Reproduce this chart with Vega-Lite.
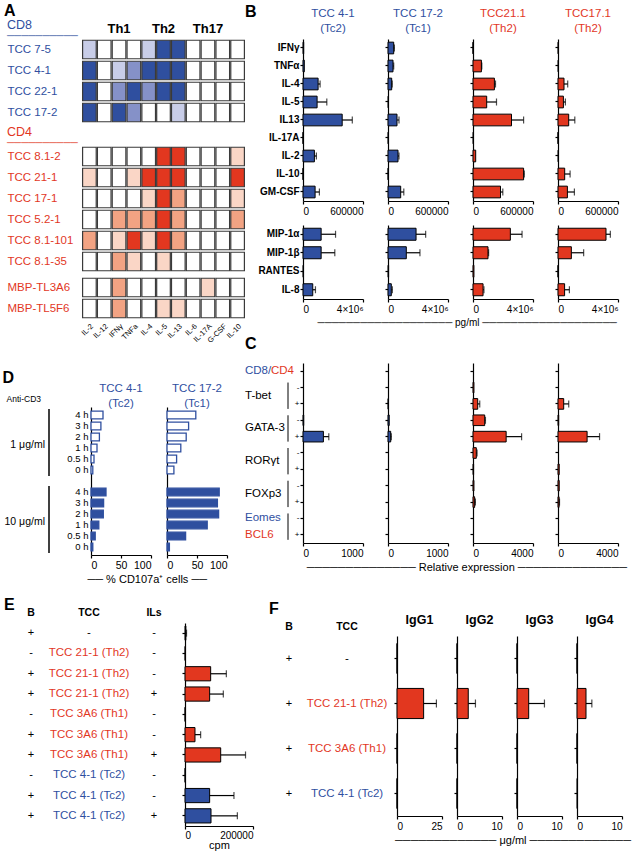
{
"$schema": "https://vega.github.io/schema/vega-lite/v6.json",
"background": "white",
"padding": 2,
"config": {
  "view": {"stroke": null},
  "font": "Liberation Sans",
  "axis": {"grid": false, "domainColor": "#000", "tickColor": "#000", "labelColor": "#000", "labelFont": "Liberation Sans", "titleFont": "Liberation Sans", "labelFontSize": 10, "tickSize": 3, "domainWidth": 1.2, "tickWidth": 1.2, "titleFontWeight": "normal", "titleFontSize": 10, "titleColor": "#000"},
  "title": {"font": "Liberation Sans", "fontWeight": "normal", "color": "#000", "subtitleFont": "Liberation Sans"},
  "text": {"font": "Liberation Sans"}
},
"datasets": {
  "heat": [
    {"clone":"TCC 7-5","subset":"CD8","block":"CD8","IL-2":1,"IL-12":0,"IFNγ":0,"TNFa":0,"IL-4":1,"IL-5":3,"IL-13":3,"IL-6":0,"IL-17A":0,"G-CSF":0,"IL-10":0},
    {"clone":"TCC 4-1","subset":"CD8","block":"CD8","IL-2":3,"IL-12":0,"IFNγ":1,"TNFa":2,"IL-4":3,"IL-5":3,"IL-13":3,"IL-6":0,"IL-17A":0,"G-CSF":0,"IL-10":0},
    {"clone":"TCC 22-1","subset":"CD8","block":"CD8","IL-2":3,"IL-12":0,"IFNγ":2,"TNFa":3,"IL-4":2,"IL-5":3,"IL-13":3,"IL-6":0,"IL-17A":0,"G-CSF":0,"IL-10":0},
    {"clone":"TCC 17-2","subset":"CD8","block":"CD8","IL-2":3,"IL-12":0,"IFNγ":3,"TNFa":2,"IL-4":0,"IL-5":0,"IL-13":1,"IL-6":0,"IL-17A":0,"G-CSF":0,"IL-10":0},
    {"clone":"TCC 8.1-2","subset":"CD4","block":"CD4","IL-2":0,"IL-12":0,"IFNγ":0,"TNFa":0,"IL-4":0,"IL-5":3,"IL-13":3,"IL-6":0,"IL-17A":0,"G-CSF":0,"IL-10":1},
    {"clone":"TCC 21-1","subset":"CD4","block":"CD4","IL-2":1,"IL-12":0,"IFNγ":0,"TNFa":1,"IL-4":3,"IL-5":3,"IL-13":3,"IL-6":0,"IL-17A":0,"G-CSF":0,"IL-10":3},
    {"clone":"TCC 17-1","subset":"CD4","block":"CD4","IL-2":0,"IL-12":0,"IFNγ":0,"TNFa":0,"IL-4":1,"IL-5":3,"IL-13":2,"IL-6":0,"IL-17A":0,"G-CSF":0,"IL-10":1},
    {"clone":"TCC 5.2-1","subset":"CD4","block":"CD4","IL-2":0,"IL-12":0,"IFNγ":2,"TNFa":2,"IL-4":2,"IL-5":3,"IL-13":2,"IL-6":0,"IL-17A":0,"G-CSF":0,"IL-10":2},
    {"clone":"TCC 8.1-101","subset":"CD4","block":"CD4","IL-2":2,"IL-12":0,"IFNγ":1,"TNFa":3,"IL-4":1,"IL-5":3,"IL-13":2,"IL-6":0,"IL-17A":0,"G-CSF":0,"IL-10":0},
    {"clone":"TCC 8.1-35","subset":"CD4","block":"CD4","IL-2":0,"IL-12":0,"IFNγ":2,"TNFa":1,"IL-4":0,"IL-5":1,"IL-13":0,"IL-6":0,"IL-17A":0,"G-CSF":0,"IL-10":0},
    {"clone":"MBP-TL3A6","subset":"CD4","block":"MBP","IL-2":0,"IL-12":0,"IFNγ":2,"TNFa":0,"IL-4":0,"IL-5":0,"IL-13":0,"IL-6":0,"IL-17A":1,"G-CSF":0,"IL-10":0},
    {"clone":"MBP-TL5F6","subset":"CD4","block":"MBP","IL-2":0,"IL-12":0,"IFNγ":2,"TNFa":0,"IL-4":0,"IL-5":1,"IL-13":1,"IL-6":0,"IL-17A":0,"G-CSF":0,"IL-10":0}
  ],
  "bt": [
    {"clone":"c1","cat":"IFNγ","v":7000},{"clone":"c1","cat":"TNFα","v":13000},{"clone":"c1","cat":"IL-4","v":151000,"hi":171000},{"clone":"c1","cat":"IL-5","v":141000,"hi":238000},{"clone":"c1","cat":"IL13","v":392000,"hi":493000},{"clone":"c1","cat":"IL-17A","v":0},{"clone":"c1","cat":"IL-2","v":114000,"hi":134000},{"clone":"c1","cat":"IL-10","v":0},{"clone":"c1","cat":"GM-CSF","v":121000,"hi":164000},
    {"clone":"c2","cat":"IFNγ","v":57000,"hi":64000},{"clone":"c2","cat":"TNFα","v":50000,"hi":57000},{"clone":"c2","cat":"IL-4","v":37000,"hi":42000},{"clone":"c2","cat":"IL-5","v":5000},{"clone":"c2","cat":"IL13","v":90000,"hi":110000},{"clone":"c2","cat":"IL-17A","v":4000},{"clone":"c2","cat":"IL-2","v":100000,"hi":110000},{"clone":"c2","cat":"IL-10","v":2000},{"clone":"c2","cat":"GM-CSF","v":127000,"hi":158000},
    {"clone":"c3","cat":"IFNγ","v":0},{"clone":"c3","cat":"TNFα","v":84000,"hi":88000},{"clone":"c3","cat":"IL-4","v":214000,"hi":225000},{"clone":"c3","cat":"IL-5","v":137000,"hi":235000},{"clone":"c3","cat":"IL13","v":385000,"hi":506000},{"clone":"c3","cat":"IL-17A","v":5000},{"clone":"c3","cat":"IL-2","v":27000},{"clone":"c3","cat":"IL-10","v":506000,"hi":513000},{"clone":"c3","cat":"GM-CSF","v":275000,"hi":298000},
    {"clone":"c4","cat":"IFNγ","v":4000},{"clone":"c4","cat":"TNFα","v":5000},{"clone":"c4","cat":"IL-4","v":60000,"hi":97000},{"clone":"c4","cat":"IL-5","v":54000,"hi":74000},{"clone":"c4","cat":"IL13","v":107000,"hi":168000},{"clone":"c4","cat":"IL-17A","v":0},{"clone":"c4","cat":"IL-2","v":5000},{"clone":"c4","cat":"IL-10","v":67000,"hi":121000},{"clone":"c4","cat":"GM-CSF","v":94000,"hi":164000}
  ],
  "bb": [
    {"clone":"c1","cat":"MIP-1α","v":1210000,"hi":2170000},{"clone":"c1","cat":"MIP-1β","v":1210000,"hi":2120000},{"clone":"c1","cat":"RANTES","v":30000},{"clone":"c1","cat":"IL-8","v":650000,"hi":830000},
    {"clone":"c2","cat":"MIP-1α","v":1870000,"hi":2510000},{"clone":"c2","cat":"MIP-1β","v":1220000,"hi":2130000},{"clone":"c2","cat":"RANTES","v":40000},{"clone":"c2","cat":"IL-8","v":220000,"hi":290000},
    {"clone":"c3","cat":"MIP-1α","v":2490000,"hi":3270000},{"clone":"c3","cat":"MIP-1β","v":1000000,"hi":1040000},{"clone":"c3","cat":"RANTES","v":60000},{"clone":"c3","cat":"IL-8","v":670000,"hi":730000},
    {"clone":"c4","cat":"MIP-1α","v":3200000,"hi":3490000},{"clone":"c4","cat":"MIP-1β","v":890000,"hi":1710000},{"clone":"c4","cat":"RANTES","v":0},{"clone":"c4","cat":"IL-8","v":440000,"hi":760000}
  ],
  "c": [
    {"clone":"c1","cat":"GATA-3|-","v":12},{"clone":"c1","cat":"GATA-3|+","v":340,"hi":430},
    {"clone":"c2","cat":"T-bet|+","v":6},{"clone":"c2","cat":"GATA-3|-","v":20},{"clone":"c2","cat":"GATA-3|+","v":45,"hi":55},
    {"clone":"c3","cat":"T-bet|-","v":60},{"clone":"c3","cat":"T-bet|+","v":313,"hi":450},{"clone":"c3","cat":"GATA-3|-","v":780,"hi":830},{"clone":"c3","cat":"GATA-3|+","v":2210,"hi":3240},{"clone":"c3","cat":"RORγt|-","v":220,"hi":270},{"clone":"c3","cat":"RORγt|+","v":40},{"clone":"c3","cat":"FOXp3|-","v":60},{"clone":"c3","cat":"FOXp3|+","v":110,"hi":160},
    {"clone":"c4","cat":"T-bet|+","v":380,"hi":715},{"clone":"c4","cat":"GATA-3|-","v":45},{"clone":"c4","cat":"GATA-3|+","v":1940,"hi":2770},{"clone":"c4","cat":"RORγt|+","v":80},{"clone":"c4","cat":"FOXp3|-","v":80},{"clone":"c4","cat":"FOXp3|+","v":70,"hi":100}
  ],
  "cgrp": [
    {"cat":"T-bet|-","label":"T-bet"},{"cat":"GATA-3|-","label":"GATA-3"},{"cat":"RORγt|-","label":"RORγt"},{"cat":"FOXp3|-","label":"FOXp3"}
  ],
  "cbr": [
    {"a":"T-bet|-","b":"T-bet|+"},{"a":"GATA-3|-","b":"GATA-3|+"},{"a":"RORγt|-","b":"RORγt|+"},{"a":"FOXp3|-","b":"FOXp3|+"},{"a":"Eomes/BCL6|-","b":"Eomes/BCL6|+"}
  ],
  "d": [
    {"clone":"4-1","dose":"1","key":"1|4 h","v":20},{"clone":"4-1","dose":"1","key":"1|3 h","v":16.5},{"clone":"4-1","dose":"1","key":"1|2 h","v":14},{"clone":"4-1","dose":"1","key":"1|1 h","v":10},{"clone":"4-1","dose":"1","key":"1|0.5 h","v":5},{"clone":"4-1","dose":"1","key":"1|0 h","v":3},
    {"clone":"4-1","dose":"10","key":"10|4 h","v":25},{"clone":"4-1","dose":"10","key":"10|3 h","v":21},{"clone":"4-1","dose":"10","key":"10|2 h","v":20.5},{"clone":"4-1","dose":"10","key":"10|1 h","v":13},{"clone":"4-1","dose":"10","key":"10|0.5 h","v":7},{"clone":"4-1","dose":"10","key":"10|0 h","v":3},
    {"clone":"17-2","dose":"1","key":"1|4 h","v":48},{"clone":"17-2","dose":"1","key":"1|3 h","v":36},{"clone":"17-2","dose":"1","key":"1|2 h","v":32},{"clone":"17-2","dose":"1","key":"1|1 h","v":23},{"clone":"17-2","dose":"1","key":"1|0.5 h","v":16},{"clone":"17-2","dose":"1","key":"1|0 h","v":11.5},
    {"clone":"17-2","dose":"10","key":"10|4 h","v":87},{"clone":"17-2","dose":"10","key":"10|3 h","v":84},{"clone":"17-2","dose":"10","key":"10|2 h","v":86},{"clone":"17-2","dose":"10","key":"10|1 h","v":67},{"clone":"17-2","dose":"10","key":"10|0.5 h","v":31},{"clone":"17-2","dose":"10","key":"10|0 h","v":4}
  ],
  "dgrp": [
    {"a":"1|4 h","b":"1|0 h","mid":"1|1 h","label":"1 μg/ml"},{"a":"10|4 h","b":"10|0 h","mid":"10|1 h","label":"10 μg/ml"}
  ],
  "e": [
    {"row":1,"b":"+","tcc":"-","ils":"-","grp":"none","v":2500,"hi":4500},
    {"row":2,"b":"-","tcc":"TCC 21-1 (Th2)","ils":"-","grp":"CD4","v":800},
    {"row":3,"b":"+","tcc":"TCC 21-1 (Th2)","ils":"-","grp":"CD4","v":75500,"hi":121600},
    {"row":4,"b":"+","tcc":"TCC 21-1 (Th2)","ils":"+","grp":"CD4","v":72500,"hi":112700},
    {"row":5,"b":"-","tcc":"TCC 3A6 (Th1)","ils":"-","grp":"CD4","v":500},
    {"row":6,"b":"+","tcc":"TCC 3A6 (Th1)","ils":"-","grp":"CD4","v":29400,"hi":46000},
    {"row":7,"b":"+","tcc":"TCC 3A6 (Th1)","ils":"+","grp":"CD4","v":105000,"hi":178000},
    {"row":8,"b":"-","tcc":"TCC 4-1 (Tc2)","ils":"-","grp":"CD8","v":500},
    {"row":9,"b":"+","tcc":"TCC 4-1 (Tc2)","ils":"-","grp":"CD8","v":72500,"hi":144000},
    {"row":10,"b":"+","tcc":"TCC 4-1 (Tc2)","ils":"+","grp":"CD8","v":76500,"hi":154000}
  ],
  "f": [
    {"row":1,"b":"+","tcc":"-","grp":"none"},
    {"row":2,"b":"+","tcc":"TCC 21-1 (Th2)","grp":"CD4"},
    {"row":3,"b":"+","tcc":"TCC 3A6 (Th1)","grp":"CD4"},
    {"row":4,"b":"+","tcc":"TCC 4-1 (Tc2)","grp":"CD8"}
  ],
  "fg": [
    {"ig":"IgG1","row":1,"v":0,"grp":"none"},{"ig":"IgG1","row":2,"v":14.8,"hi":21.9,"grp":"CD4"},{"ig":"IgG1","row":3,"v":0,"grp":"CD4"},{"ig":"IgG1","row":4,"v":0,"grp":"CD8"},
    {"ig":"IgG2","row":1,"v":0,"grp":"none"},{"ig":"IgG2","row":2,"v":2.5,"hi":4.1,"grp":"CD4"},{"ig":"IgG2","row":3,"v":0,"grp":"CD4"},{"ig":"IgG2","row":4,"v":0,"grp":"CD8"},
    {"ig":"IgG3","row":1,"v":0,"grp":"none"},{"ig":"IgG3","row":2,"v":2.6,"hi":6.1,"grp":"CD4"},{"ig":"IgG3","row":3,"v":0,"grp":"CD4"},{"ig":"IgG3","row":4,"v":0,"grp":"CD8"},
    {"ig":"IgG4","row":1,"v":0,"grp":"none"},{"ig":"IgG4","row":2,"v":2.0,"hi":3.3,"grp":"CD4"},{"ig":"IgG4","row":3,"v":0,"grp":"CD4"},{"ig":"IgG4","row":4,"v":0.1,"grp":"CD8"}
  ]
},
"spacing": 11,
"resolve": {"scale": {"color": "independent", "fill": "independent"}},
"vconcat": [
  {"spacing": -2, "resolve": {"scale": {"color": "independent", "fill": "independent"}}, "hconcat": [
    {"spacing": 25, "resolve": {"scale": {"color": "independent", "fill": "independent"}}, "vconcat": [
      {"title": {"text": "A", "anchor": "start", "fontSize": 16, "fontWeight": "bold", "dx": -3, "offset": 0},
       "spacing": 2, "resolve": {"scale": {"color": "independent", "fill": "independent"}},
       "vconcat": [
        {"bounds": "flush", "spacing": 74, "resolve": {"scale": {"color": "independent", "fill": "independent"}}, "hconcat": [
          {"width": 1, "height": 84, "data": {"name": "heat"}, "transform": [{"filter": "datum.block === 'CD8'"}],
           "title": {"text": "CD8", "subtitle": "──────────", "anchor": "start", "color": "#2f4f9f", "subtitleColor": "#2f4f9f", "fontSize": 12.5, "subtitleFontSize": 10, "subtitlePadding": 0, "offset": -2},
           "mark": {"type": "text", "align": "left", "baseline": "middle", "fontSize": 11.5},
           "encoding": {
             "y": {"field": "clone", "type": "nominal", "sort": null, "scale": {"paddingInner": 0.12, "paddingOuter": 0.06}, "axis": null},
             "text": {"field": "clone"},
             "color": {"field": "subset", "type": "nominal", "scale": {"domain": ["CD8","CD4"], "range": ["#2f4f9f","#e2371f"]}, "legend": null}}},
          {"width": 163, "height": 84, "data": {"name": "heat"},
           "transform": [{"filter": "datum.block === 'CD8'"}, {"fold": ["IL-2","IL-12","IFNγ","TNFa","IL-4","IL-5","IL-13","IL-6","IL-17A","G-CSF","IL-10"], "as": ["cytokine","level"]}, {"calculate": "datum.level == 0 ? 'none' : datum.subset + datum.level", "as": "shade"}],
           "mark": {"type": "rect", "stroke": "#3a3a3a", "strokeWidth": 1.2},
           "encoding": {
             "x": {"field": "cytokine", "type": "nominal", "scale": {"domain": ["IL-2","IL-12","IFNγ","TNFa","IL-4","IL-5","IL-13","IL-6","IL-17A","G-CSF","IL-10"], "paddingInner": 0.08, "paddingOuter": 0.04}, "axis": {"orient": "top", "title": null, "domain": false, "ticks": false, "labelAngle": 0, "labelFontSize": 13, "labelFontWeight": "bold", "labelPadding": 4, "labelExpr": "datum.value == 'IFNγ' ? 'Th1' : datum.value == 'IL-5' ? 'Th2' : datum.value == 'IL-17A' ? 'Th17' : ''"}},
             "y": {"field": "clone", "type": "nominal", "sort": null, "scale": {"paddingInner": 0.12, "paddingOuter": 0.06}, "axis": null},
             "color": {"field": "shade", "type": "nominal", "scale": {"domain": ["none","CD81","CD82","CD83","CD41","CD42","CD43"], "range": ["#ffffff","#c8cde8","#8591c8","#2f4f9f","#fad6c6","#f2a383","#e2371f"]}, "legend": null}}}
        ]},
        {"spacing": 5, "resolve": {"scale": {"color": "independent", "fill": "independent"}}, "vconcat": [
          {"bounds": "flush", "spacing": 74, "resolve": {"scale": {"color": "independent", "fill": "independent"}}, "hconcat": [
            {"width": 1, "height": 126, "data": {"name": "heat"}, "transform": [{"filter": "datum.block === 'CD4'"}],
             "title": {"text": "CD4", "subtitle": "──────────", "anchor": "start", "color": "#e2371f", "subtitleColor": "#e2371f", "fontSize": 12.5, "subtitleFontSize": 10, "subtitlePadding": 0, "offset": -2},
             "mark": {"type": "text", "align": "left", "baseline": "middle", "fontSize": 11.5},
             "encoding": {
               "y": {"field": "clone", "type": "nominal", "sort": null, "scale": {"paddingInner": 0.12, "paddingOuter": 0.06}, "axis": null},
               "text": {"field": "clone"},
               "color": {"field": "subset", "type": "nominal", "scale": {"domain": ["CD8","CD4"], "range": ["#2f4f9f","#e2371f"]}, "legend": null}}},
            {"width": 163, "height": 126, "data": {"name": "heat"},
             "transform": [{"filter": "datum.block === 'CD4'"}, {"fold": ["IL-2","IL-12","IFNγ","TNFa","IL-4","IL-5","IL-13","IL-6","IL-17A","G-CSF","IL-10"], "as": ["cytokine","level"]}, {"calculate": "datum.level == 0 ? 'none' : datum.subset + datum.level", "as": "shade"}],
             "mark": {"type": "rect", "stroke": "#3a3a3a", "strokeWidth": 1.2},
             "encoding": {
               "x": {"field": "cytokine", "type": "nominal", "scale": {"domain": ["IL-2","IL-12","IFNγ","TNFa","IL-4","IL-5","IL-13","IL-6","IL-17A","G-CSF","IL-10"], "paddingInner": 0.08, "paddingOuter": 0.04}, "axis": null},
               "y": {"field": "clone", "type": "nominal", "sort": null, "scale": {"paddingInner": 0.12, "paddingOuter": 0.06}, "axis": null},
               "color": {"field": "shade", "type": "nominal", "scale": {"domain": ["none","CD81","CD82","CD83","CD41","CD42","CD43"], "range": ["#ffffff","#c8cde8","#8591c8","#2f4f9f","#fad6c6","#f2a383","#e2371f"]}, "legend": null}}}
          ]},
          {"bounds": "flush", "spacing": 74, "resolve": {"scale": {"color": "independent", "fill": "independent"}}, "hconcat": [
            {"width": 1, "height": 42, "data": {"name": "heat"}, "transform": [{"filter": "datum.block === 'MBP'"}],
             "mark": {"type": "text", "align": "left", "baseline": "middle", "fontSize": 11.5},
             "encoding": {
               "y": {"field": "clone", "type": "nominal", "sort": null, "scale": {"paddingInner": 0.12, "paddingOuter": 0.06}, "axis": null},
               "text": {"field": "clone"},
               "color": {"field": "subset", "type": "nominal", "scale": {"domain": ["CD8","CD4"], "range": ["#2f4f9f","#e2371f"]}, "legend": null}}},
            {"width": 163, "height": 42, "data": {"name": "heat"},
             "transform": [{"filter": "datum.block === 'MBP'"}, {"fold": ["IL-2","IL-12","IFNγ","TNFa","IL-4","IL-5","IL-13","IL-6","IL-17A","G-CSF","IL-10"], "as": ["cytokine","level"]}, {"calculate": "datum.level == 0 ? 'none' : datum.subset + datum.level", "as": "shade"}],
             "mark": {"type": "rect", "stroke": "#3a3a3a", "strokeWidth": 1.2},
             "encoding": {
               "x": {"field": "cytokine", "type": "nominal", "scale": {"domain": ["IL-2","IL-12","IFNγ","TNFa","IL-4","IL-5","IL-13","IL-6","IL-17A","G-CSF","IL-10"], "paddingInner": 0.08, "paddingOuter": 0.04}, "axis": {"orient": "bottom", "title": null, "domain": false, "ticks": false, "labelAngle": -45, "labelFontSize": 7.5, "labelPadding": 3}},
               "y": {"field": "clone", "type": "nominal", "sort": null, "scale": {"paddingInner": 0.12, "paddingOuter": 0.06}, "axis": null},
               "color": {"field": "shade", "type": "nominal", "scale": {"domain": ["none","CD81","CD82","CD83","CD41","CD42","CD43"], "range": ["#ffffff","#c8cde8","#8591c8","#2f4f9f","#fad6c6","#f2a383","#e2371f"]}, "legend": null}}}
          ]}
        ]}
      ]},
      {"title": {"text": "D", "anchor": "start", "fontSize": 16, "fontWeight": "bold", "dx": -2, "offset": -3},
       "bounds": "flush", "spacing": -13, "resolve": {"scale": {"color": "independent", "fill": "independent"}},
       "hconcat": [
        {"width": 84, "height": 148, "data": {"name": "dgrp"},
         "title": {"text": "Anti-CD3", "anchor": "middle", "align": "right", "dx": -8, "fontSize": 8.5, "offset": 4},
         "layer": [
           {"mark": {"type": "rule", "color": "#000", "strokeWidth": 1.5, "yOffset": -6, "y2Offset": 6},
            "encoding": {"y": {"field": "a", "type": "nominal", "scale": {"domain": ["1|4 h","1|3 h","1|2 h","1|1 h","1|0.5 h","1|0 h","gap","10|4 h","10|3 h","10|2 h","10|1 h","10|0.5 h","10|0 h"], "paddingInner": 0.3, "paddingOuter": 0.375}, "axis": null}, "y2": {"field": "b"}}},
           {"mark": {"type": "text", "align": "right", "baseline": "middle", "fontSize": 10.5, "dx": -4, "dy": -3},
            "encoding": {"y": {"field": "mid", "type": "nominal", "axis": null}, "text": {"field": "label"}}}
         ]},
        {"title": {"text": "──   % CD107a⁺ cells   ──", "orient": "bottom", "anchor": "middle", "fontSize": 11, "offset": 3},
         "bounds": "flush", "spacing": 16, "resolve": {"scale": {"color": "independent", "fill": "independent"}},
         "hconcat": [
          {"width": 60, "height": 148, "data": {"name": "d"}, "transform": [{"filter": "datum.clone === '4-1'"}],
           "title": {"text": ["TCC 4-1", "(Tc2)"], "color": "#2f4f9f", "fontSize": 11.5, "lineHeight": 15, "offset": -2},
           "mark": {"type": "bar", "stroke": "#2f4f9f", "strokeWidth": 1.3},
           "encoding": {
             "y": {"field": "key", "type": "nominal", "scale": {"domain": ["1|4 h","1|3 h","1|2 h","1|1 h","1|0.5 h","1|0 h","gap","10|4 h","10|3 h","10|2 h","10|1 h","10|0.5 h","10|0 h"], "paddingInner": 0.3, "paddingOuter": 0.375}, "axis": {"title": null, "ticks": false, "labelFontSize": 9.5, "labelPadding": 3, "labelExpr": "split(datum.value, '|')[1] || ''"}},
             "x": {"field": "v", "type": "quantitative", "scale": {"domain": [0, 100], "nice": false}, "axis": {"title": null, "values": [0, 50, 100], "labelFontSize": 10.5}},
             "fill": {"field": "dose", "type": "nominal", "scale": {"domain": ["1","10"], "range": ["#ffffff","#2f4f9f"]}, "legend": null}}},
          {"width": 60, "height": 148, "data": {"name": "d"}, "transform": [{"filter": "datum.clone === '17-2'"}],
           "title": {"text": ["TCC 17-2", "(Tc1)"], "color": "#2f4f9f", "fontSize": 11.5, "lineHeight": 15, "offset": -2},
           "mark": {"type": "bar", "stroke": "#2f4f9f", "strokeWidth": 1.3},
           "encoding": {
             "y": {"field": "key", "type": "nominal", "scale": {"domain": ["1|4 h","1|3 h","1|2 h","1|1 h","1|0.5 h","1|0 h","gap","10|4 h","10|3 h","10|2 h","10|1 h","10|0.5 h","10|0 h"], "paddingInner": 0.3, "paddingOuter": 0.375}, "axis": {"title": null, "ticks": false, "labels": false}},
             "x": {"field": "v", "type": "quantitative", "scale": {"domain": [0, 100], "nice": false}, "axis": {"title": null, "values": [0, 50, 100], "labelFontSize": 10.5}},
             "fill": {"field": "dose", "type": "nominal", "scale": {"domain": ["1","10"], "range": ["#ffffff","#2f4f9f"]}, "legend": null}}}
         ]}
      ]}
    ]},
    {"spacing": 8, "vconcat": [
      {"title": {"text": "B", "anchor": "start", "fontSize": 16, "fontWeight": "bold", "dx": -13, "offset": -12},
       "spacing": 9,
       "vconcat": [
        {"bounds": "flush", "spacing": 25, "hconcat": [
          {"width": 60, "height": 162, "data": {"name": "bt"}, "transform": [{"filter": "datum.clone === 'c1'"}],
           "title": {"text": ["TCC 4-1", "(Tc2)"], "color": "#2f4f9f", "fontSize": 11.5, "lineHeight": 15, "offset": 5},
           "encoding": {"y": {"field": "cat", "type": "nominal", "scale": {"domain": ["IFNγ","TNFα","IL-4","IL-5","IL13","IL-17A","IL-2","IL-10","GM-CSF"], "paddingInner": 0.35, "paddingOuter": 0.175}, "axis": {"title": null, "labelFontWeight": "bold", "labelFontSize": 10, "labelPadding": 1}}},
           "layer": [
             {"mark": {"type": "bar", "fill": "#2f4f9f", "stroke": "#000", "strokeWidth": 1}, "encoding": {"x": {"field": "v", "type": "quantitative", "scale": {"domain": [0, 600000], "nice": false}, "axis": {"title": null, "values": [0, 600000], "format": "d"}}}},
             {"transform": [{"filter": "datum.hi != null"}], "mark": {"type": "rule", "color": "#000", "strokeWidth": 1.2}, "encoding": {"x": {"field": "v", "type": "quantitative", "title": null}, "x2": {"field": "hi"}}},
             {"transform": [{"filter": "datum.hi != null"}], "mark": {"type": "tick", "color": "#000", "thickness": 1.2, "size": 7}, "encoding": {"x": {"field": "hi", "type": "quantitative", "title": null}}}
           ]},
          {"width": 60, "height": 162, "data": {"name": "bt"}, "transform": [{"filter": "datum.clone === 'c2'"}],
           "title": {"text": ["TCC 17-2", "(Tc1)"], "color": "#2f4f9f", "fontSize": 11.5, "lineHeight": 15, "offset": 5},
           "encoding": {"y": {"field": "cat", "type": "nominal", "scale": {"domain": ["IFNγ","TNFα","IL-4","IL-5","IL13","IL-17A","IL-2","IL-10","GM-CSF"], "paddingInner": 0.35, "paddingOuter": 0.175}, "axis": {"title": null, "labels": false}}},
           "layer": [
             {"mark": {"type": "bar", "fill": "#2f4f9f", "stroke": "#000", "strokeWidth": 1}, "encoding": {"x": {"field": "v", "type": "quantitative", "scale": {"domain": [0, 600000], "nice": false}, "axis": {"title": null, "values": [0, 600000], "format": "d"}}}},
             {"transform": [{"filter": "datum.hi != null"}], "mark": {"type": "rule", "color": "#000", "strokeWidth": 1.2}, "encoding": {"x": {"field": "v", "type": "quantitative", "title": null}, "x2": {"field": "hi"}}},
             {"transform": [{"filter": "datum.hi != null"}], "mark": {"type": "tick", "color": "#000", "thickness": 1.2, "size": 7}, "encoding": {"x": {"field": "hi", "type": "quantitative", "title": null}}}
           ]},
          {"width": 60, "height": 162, "data": {"name": "bt"}, "transform": [{"filter": "datum.clone === 'c3'"}],
           "title": {"text": ["TCC21.1", "(Th2)"], "color": "#e2371f", "fontSize": 11.5, "lineHeight": 15, "offset": 5},
           "encoding": {"y": {"field": "cat", "type": "nominal", "scale": {"domain": ["IFNγ","TNFα","IL-4","IL-5","IL13","IL-17A","IL-2","IL-10","GM-CSF"], "paddingInner": 0.35, "paddingOuter": 0.175}, "axis": {"title": null, "labels": false}}},
           "layer": [
             {"mark": {"type": "bar", "fill": "#e2371f", "stroke": "#000", "strokeWidth": 1}, "encoding": {"x": {"field": "v", "type": "quantitative", "scale": {"domain": [0, 600000], "nice": false}, "axis": {"title": null, "values": [0, 600000], "format": "d"}}}},
             {"transform": [{"filter": "datum.hi != null"}], "mark": {"type": "rule", "color": "#000", "strokeWidth": 1.2}, "encoding": {"x": {"field": "v", "type": "quantitative", "title": null}, "x2": {"field": "hi"}}},
             {"transform": [{"filter": "datum.hi != null"}], "mark": {"type": "tick", "color": "#000", "thickness": 1.2, "size": 7}, "encoding": {"x": {"field": "hi", "type": "quantitative", "title": null}}}
           ]},
          {"width": 60, "height": 162, "data": {"name": "bt"}, "transform": [{"filter": "datum.clone === 'c4'"}],
           "title": {"text": ["TCC17.1", "(Th2)"], "color": "#e2371f", "fontSize": 11.5, "lineHeight": 15, "offset": 5},
           "encoding": {"y": {"field": "cat", "type": "nominal", "scale": {"domain": ["IFNγ","TNFα","IL-4","IL-5","IL13","IL-17A","IL-2","IL-10","GM-CSF"], "paddingInner": 0.35, "paddingOuter": 0.175}, "axis": {"title": null, "labels": false}}},
           "layer": [
             {"mark": {"type": "bar", "fill": "#e2371f", "stroke": "#000", "strokeWidth": 1}, "encoding": {"x": {"field": "v", "type": "quantitative", "scale": {"domain": [0, 600000], "nice": false}, "axis": {"title": null, "values": [0, 600000], "format": "d"}}}},
             {"transform": [{"filter": "datum.hi != null"}], "mark": {"type": "rule", "color": "#000", "strokeWidth": 1.2}, "encoding": {"x": {"field": "v", "type": "quantitative", "title": null}, "x2": {"field": "hi"}}},
             {"transform": [{"filter": "datum.hi != null"}], "mark": {"type": "tick", "color": "#000", "thickness": 1.2, "size": 7}, "encoding": {"x": {"field": "hi", "type": "quantitative", "title": null}}}
           ]}
        ]},
        {"title": {"text": "───────────────────   pg/ml   ───────────────────", "orient": "bottom", "anchor": "middle", "fontSize": 10, "offset": 4, "dx": 29},
         "bounds": "flush", "spacing": 25, "hconcat": [
          {"width": 60, "height": 74, "data": {"name": "bb"}, "transform": [{"filter": "datum.clone === 'c1'"}],
           "encoding": {"y": {"field": "cat", "type": "nominal", "scale": {"domain": ["MIP-1α","MIP-1β","RANTES","IL-8"], "paddingInner": 0.35, "paddingOuter": 0.175}, "axis": {"title": null, "labelFontWeight": "bold", "labelFontSize": 10, "labelPadding": 1}}},
           "layer": [
             {"mark": {"type": "bar", "fill": "#2f4f9f", "stroke": "#000", "strokeWidth": 1}, "encoding": {"x": {"field": "v", "type": "quantitative", "scale": {"domain": [0, 4000000], "nice": false}, "axis": {"title": null, "values": [0, 4000000], "labelExpr": "datum.value == 0 ? '0' : '4×10⁶'"}}}},
             {"transform": [{"filter": "datum.hi != null"}], "mark": {"type": "rule", "color": "#000", "strokeWidth": 1.2}, "encoding": {"x": {"field": "v", "type": "quantitative", "title": null}, "x2": {"field": "hi"}}},
             {"transform": [{"filter": "datum.hi != null"}], "mark": {"type": "tick", "color": "#000", "thickness": 1.2, "size": 7}, "encoding": {"x": {"field": "hi", "type": "quantitative", "title": null}}}
           ]},
          {"width": 60, "height": 74, "data": {"name": "bb"}, "transform": [{"filter": "datum.clone === 'c2'"}],
           "encoding": {"y": {"field": "cat", "type": "nominal", "scale": {"domain": ["MIP-1α","MIP-1β","RANTES","IL-8"], "paddingInner": 0.35, "paddingOuter": 0.175}, "axis": {"title": null, "labels": false}}},
           "layer": [
             {"mark": {"type": "bar", "fill": "#2f4f9f", "stroke": "#000", "strokeWidth": 1}, "encoding": {"x": {"field": "v", "type": "quantitative", "scale": {"domain": [0, 4000000], "nice": false}, "axis": {"title": null, "values": [0, 4000000], "labelExpr": "datum.value == 0 ? '0' : '4×10⁶'"}}}},
             {"transform": [{"filter": "datum.hi != null"}], "mark": {"type": "rule", "color": "#000", "strokeWidth": 1.2}, "encoding": {"x": {"field": "v", "type": "quantitative", "title": null}, "x2": {"field": "hi"}}},
             {"transform": [{"filter": "datum.hi != null"}], "mark": {"type": "tick", "color": "#000", "thickness": 1.2, "size": 7}, "encoding": {"x": {"field": "hi", "type": "quantitative", "title": null}}}
           ]},
          {"width": 60, "height": 74, "data": {"name": "bb"}, "transform": [{"filter": "datum.clone === 'c3'"}],
           "encoding": {"y": {"field": "cat", "type": "nominal", "scale": {"domain": ["MIP-1α","MIP-1β","RANTES","IL-8"], "paddingInner": 0.35, "paddingOuter": 0.175}, "axis": {"title": null, "labels": false}}},
           "layer": [
             {"mark": {"type": "bar", "fill": "#e2371f", "stroke": "#000", "strokeWidth": 1}, "encoding": {"x": {"field": "v", "type": "quantitative", "scale": {"domain": [0, 4000000], "nice": false}, "axis": {"title": null, "values": [0, 4000000], "labelExpr": "datum.value == 0 ? '0' : '4×10⁶'"}}}},
             {"transform": [{"filter": "datum.hi != null"}], "mark": {"type": "rule", "color": "#000", "strokeWidth": 1.2}, "encoding": {"x": {"field": "v", "type": "quantitative", "title": null}, "x2": {"field": "hi"}}},
             {"transform": [{"filter": "datum.hi != null"}], "mark": {"type": "tick", "color": "#000", "thickness": 1.2, "size": 7}, "encoding": {"x": {"field": "hi", "type": "quantitative", "title": null}}}
           ]},
          {"width": 60, "height": 74, "data": {"name": "bb"}, "transform": [{"filter": "datum.clone === 'c4'"}],
           "encoding": {"y": {"field": "cat", "type": "nominal", "scale": {"domain": ["MIP-1α","MIP-1β","RANTES","IL-8"], "paddingInner": 0.35, "paddingOuter": 0.175}, "axis": {"title": null, "labels": false}}},
           "layer": [
             {"mark": {"type": "bar", "fill": "#e2371f", "stroke": "#000", "strokeWidth": 1}, "encoding": {"x": {"field": "v", "type": "quantitative", "scale": {"domain": [0, 4000000], "nice": false}, "axis": {"title": null, "values": [0, 4000000], "labelExpr": "datum.value == 0 ? '0' : '4×10⁶'"}}}},
             {"transform": [{"filter": "datum.hi != null"}], "mark": {"type": "rule", "color": "#000", "strokeWidth": 1.2}, "encoding": {"x": {"field": "v", "type": "quantitative", "title": null}, "x2": {"field": "hi"}}},
             {"transform": [{"filter": "datum.hi != null"}], "mark": {"type": "tick", "color": "#000", "thickness": 1.2, "size": 7}, "encoding": {"x": {"field": "hi", "type": "quantitative", "title": null}}}
           ]}
        ]}
      ]},
      {"title": {"text": "C", "anchor": "start", "fontSize": 16, "fontWeight": "bold", "offset": 11},
       "vconcat": [
        {"title": {"text": "──────────────   Relative expression   ──────────────", "orient": "bottom", "anchor": "middle", "fontSize": 11, "offset": 4, "dx": 35},
         "bounds": "flush", "spacing": 25, "resolve": {"scale": {"color": "independent", "fill": "independent"}}, "hconcat": [
          {"width": 60, "height": 180, "data": {"name": "c"},
           "encoding": {"y": {"field": "cat", "type": "nominal", "scale": {"domain": ["CD8/CD4","T-bet|-","T-bet|+","GATA-3|-","GATA-3|+","RORγt|-","RORγt|+","FOXp3|-","FOXp3|+","Eomes/BCL6|-","Eomes/BCL6|+"], "paddingInner": 0.35, "paddingOuter": 0.175}, "axis": {"title": null, "labelFontSize": 8, "labelPadding": 1, "labelExpr": "datum.value == 'CD8/CD4' ? '' : (indexof(datum.value, '|-') >= 0 ? '-' : '+')"}}},
           "layer": [
             {"transform": [{"filter": "datum.clone === 'c1'"}], "mark": {"type": "bar", "fill": "#2f4f9f", "stroke": "#000", "strokeWidth": 1}, "encoding": {"x": {"field": "v", "type": "quantitative", "scale": {"domain": [0, 1000], "nice": false}, "axis": {"title": null, "values": [0, 500, 1000], "format": "d"}}}},
             {"transform": [{"filter": "datum.clone === 'c1' && datum.hi != null"}], "mark": {"type": "rule", "color": "#000", "strokeWidth": 1.2}, "encoding": {"x": {"field": "v", "type": "quantitative", "title": null}, "x2": {"field": "hi"}}},
             {"transform": [{"filter": "datum.clone === 'c1' && datum.hi != null"}], "mark": {"type": "tick", "color": "#000", "thickness": 1.2, "size": 7}, "encoding": {"x": {"field": "hi", "type": "quantitative", "title": null}}},
             {"data": {"name": "cgrp"}, "mark": {"type": "text", "align": "left", "baseline": "middle", "fontSize": 11.5, "dx": -58, "dy": 8.2}, "encoding": {"x": {"datum": 0, "title": null}, "text": {"field": "label"}}},
             {"data": {"values": [{"cat":"Eomes/BCL6|-","label":"Eomes","g":"CD8"},{"cat":"Eomes/BCL6|+","label":"BCL6","g":"CD4"},{"cat":"CD8/CD4","label":"CD8/","g":"CD8"}]}, "mark": {"type": "text", "align": "left", "baseline": "middle", "fontSize": 11.5, "dx": -58}, "encoding": {"x": {"datum": 0, "title": null}, "text": {"field": "label"}, "color": {"field": "g", "type": "nominal", "scale": {"domain": ["CD8","CD4"], "range": ["#2f4f9f","#e2371f"]}, "legend": null}}},
             {"data": {"values": [{"cat":"CD8/CD4","label":"CD4"}]}, "mark": {"type": "text", "align": "right", "baseline": "middle", "fontSize": 11.5, "dx": -9, "color": "#e2371f"}, "encoding": {"x": {"datum": 0, "title": null}, "text": {"field": "label"}}},
             {"data": {"name": "cbr"}, "mark": {"type": "rule", "color": "#000", "strokeWidth": 1, "xOffset": -15, "yOffset": -5, "y2Offset": 5}, "encoding": {"x": {"datum": 0, "title": null}, "y": {"field": "a", "type": "nominal"}, "y2": {"field": "b"}}}
           ]},
          {"width": 60, "height": 180, "data": {"name": "c"}, "transform": [{"filter": "datum.clone === 'c2'"}],
           "encoding": {"y": {"field": "cat", "type": "nominal", "scale": {"domain": ["CD8/CD4","T-bet|-","T-bet|+","GATA-3|-","GATA-3|+","RORγt|-","RORγt|+","FOXp3|-","FOXp3|+","Eomes/BCL6|-","Eomes/BCL6|+"], "paddingInner": 0.35, "paddingOuter": 0.175}, "axis": {"title": null, "labels": false}}},
           "layer": [
             {"mark": {"type": "bar", "fill": "#2f4f9f", "stroke": "#000", "strokeWidth": 1}, "encoding": {"x": {"field": "v", "type": "quantitative", "scale": {"domain": [0, 1000], "nice": false}, "axis": {"title": null, "values": [0, 500, 1000], "format": "d"}}}},
             {"transform": [{"filter": "datum.hi != null"}], "mark": {"type": "rule", "color": "#000", "strokeWidth": 1.2}, "encoding": {"x": {"field": "v", "type": "quantitative", "title": null}, "x2": {"field": "hi"}}},
             {"transform": [{"filter": "datum.hi != null"}], "mark": {"type": "tick", "color": "#000", "thickness": 1.2, "size": 7}, "encoding": {"x": {"field": "hi", "type": "quantitative", "title": null}}}
           ]},
          {"width": 60, "height": 180, "data": {"name": "c"}, "transform": [{"filter": "datum.clone === 'c3'"}],
           "encoding": {"y": {"field": "cat", "type": "nominal", "scale": {"domain": ["CD8/CD4","T-bet|-","T-bet|+","GATA-3|-","GATA-3|+","RORγt|-","RORγt|+","FOXp3|-","FOXp3|+","Eomes/BCL6|-","Eomes/BCL6|+"], "paddingInner": 0.35, "paddingOuter": 0.175}, "axis": {"title": null, "labels": false}}},
           "layer": [
             {"mark": {"type": "bar", "fill": "#e2371f", "stroke": "#000", "strokeWidth": 1}, "encoding": {"x": {"field": "v", "type": "quantitative", "scale": {"domain": [0, 4000], "nice": false}, "axis": {"title": null, "values": [0, 2000, 4000], "format": "d"}}}},
             {"transform": [{"filter": "datum.hi != null"}], "mark": {"type": "rule", "color": "#000", "strokeWidth": 1.2}, "encoding": {"x": {"field": "v", "type": "quantitative", "title": null}, "x2": {"field": "hi"}}},
             {"transform": [{"filter": "datum.hi != null"}], "mark": {"type": "tick", "color": "#000", "thickness": 1.2, "size": 7}, "encoding": {"x": {"field": "hi", "type": "quantitative", "title": null}}}
           ]},
          {"width": 60, "height": 180, "data": {"name": "c"}, "transform": [{"filter": "datum.clone === 'c4'"}],
           "encoding": {"y": {"field": "cat", "type": "nominal", "scale": {"domain": ["CD8/CD4","T-bet|-","T-bet|+","GATA-3|-","GATA-3|+","RORγt|-","RORγt|+","FOXp3|-","FOXp3|+","Eomes/BCL6|-","Eomes/BCL6|+"], "paddingInner": 0.35, "paddingOuter": 0.175}, "axis": {"title": null, "labels": false}}},
           "layer": [
             {"mark": {"type": "bar", "fill": "#e2371f", "stroke": "#000", "strokeWidth": 1}, "encoding": {"x": {"field": "v", "type": "quantitative", "scale": {"domain": [0, 4000], "nice": false}, "axis": {"title": null, "values": [0, 2000, 4000], "format": "d"}}}},
             {"transform": [{"filter": "datum.hi != null"}], "mark": {"type": "rule", "color": "#000", "strokeWidth": 1.2}, "encoding": {"x": {"field": "v", "type": "quantitative", "title": null}, "x2": {"field": "hi"}}},
             {"transform": [{"filter": "datum.hi != null"}], "mark": {"type": "tick", "color": "#000", "thickness": 1.2, "size": 7}, "encoding": {"x": {"field": "hi", "type": "quantitative", "title": null}}}
           ]}
        ]}
      ]}
    ]}
  ]},
  {"spacing": 15, "resolve": {"scale": {"color": "independent", "fill": "independent"}}, "hconcat": [
    {"title": {"text": "E", "anchor": "start", "fontSize": 16, "fontWeight": "bold", "dx": -3, "offset": -5},
     "bounds": "flush", "spacing": 0, "resolve": {"scale": {"color": "independent", "fill": "independent"}},
     "hconcat": [
      {"width": 48, "height": 203, "data": {"name": "e"},
       "title": {"text": "B", "fontWeight": "bold", "fontSize": 10.5, "offset": 5},
       "mark": {"type": "text", "fontSize": 11, "baseline": "middle"},
       "encoding": {"y": {"field": "row", "type": "ordinal", "scale": {"paddingInner": 0.3, "paddingOuter": 0.15}, "axis": null}, "text": {"field": "b"}}},
      {"width": 68, "height": 203, "data": {"name": "e"},
       "title": {"text": "TCC", "fontWeight": "bold", "fontSize": 10.5, "offset": 5},
       "mark": {"type": "text", "fontSize": 11.5, "baseline": "middle"},
       "encoding": {"y": {"field": "row", "type": "ordinal", "scale": {"paddingInner": 0.3, "paddingOuter": 0.15}, "axis": null}, "text": {"field": "tcc"},
         "color": {"field": "grp", "type": "nominal", "scale": {"domain": ["none","CD4","CD8"], "range": ["#000000","#e2371f","#2f4f9f"]}, "legend": null}}},
      {"width": 62, "height": 203, "data": {"name": "e"},
       "title": {"text": "ILs", "fontWeight": "bold", "fontSize": 10.5, "offset": 5},
       "mark": {"type": "text", "fontSize": 11, "baseline": "middle"},
       "encoding": {"y": {"field": "row", "type": "ordinal", "scale": {"paddingInner": 0.3, "paddingOuter": 0.15}, "axis": null}, "text": {"field": "ils"}}},
      {"width": 68, "height": 203, "data": {"name": "e"},
       "encoding": {"y": {"field": "row", "type": "ordinal", "scale": {"paddingInner": 0.3, "paddingOuter": 0.15}, "axis": {"title": null, "labels": false}}},
       "layer": [
         {"mark": {"type": "bar", "stroke": "#000", "strokeWidth": 1}, "encoding": {"x": {"field": "v", "type": "quantitative", "scale": {"domain": [0, 200000], "nice": false}, "axis": {"title": "cpm", "values": [0, 200000], "format": "d", "labelPadding": 1, "titlePadding": -1, "titleFontSize": 11}}, "fill": {"field": "grp", "type": "nominal", "scale": {"domain": ["none","CD4","CD8"], "range": ["#000000","#e2371f","#2f4f9f"]}, "legend": null}}},
         {"transform": [{"filter": "datum.hi != null"}], "mark": {"type": "rule", "color": "#000", "strokeWidth": 1.2}, "encoding": {"x": {"field": "v", "type": "quantitative", "title": "cpm"}, "x2": {"field": "hi"}}},
         {"transform": [{"filter": "datum.hi != null"}], "mark": {"type": "tick", "color": "#000", "thickness": 1.2, "size": 7}, "encoding": {"x": {"field": "hi", "type": "quantitative", "title": "cpm"}}}
       ]}
     ]},
    {"title": {"text": "F", "anchor": "start", "fontSize": 16, "fontWeight": "bold", "dx": -12, "offset": -3},
     "spacing": -11, "resolve": {"scale": {"color": "independent", "fill": "independent"}},
     "vconcat": [
      {"width": 1, "height": 1, "data": {"values": []}, "mark": "point", "encoding": {}},
      {"bounds": "flush", "spacing": 0, "resolve": {"scale": {"color": "independent", "fill": "independent"}}, "hconcat": [
        {"width": 16, "height": 180, "data": {"name": "f"},
         "title": {"text": "B", "fontWeight": "bold", "fontSize": 10.5, "offset": 4},
         "mark": {"type": "text", "fontSize": 11, "baseline": "middle"},
         "encoding": {"y": {"field": "row", "type": "ordinal", "scale": {"domain": [1,2,3,4], "paddingInner": 0.33, "paddingOuter": 0.165}, "axis": null}, "text": {"field": "b"}}},
        {"width": 100, "height": 180, "data": {"name": "f"},
         "title": {"text": "TCC", "fontWeight": "bold", "fontSize": 10.5, "offset": 4},
         "mark": {"type": "text", "fontSize": 11.5, "baseline": "middle"},
         "encoding": {"y": {"field": "row", "type": "ordinal", "scale": {"domain": [1,2,3,4], "paddingInner": 0.33, "paddingOuter": 0.165}, "axis": null}, "text": {"field": "tcc"},
           "color": {"field": "grp", "type": "nominal", "scale": {"domain": ["none","CD4","CD8"], "range": ["#000000","#e2371f","#2f4f9f"]}, "legend": null}}},
        {"title": {"text": "─────────────   μg/ml   ─────────────", "orient": "bottom", "anchor": "middle", "fontSize": 11, "offset": 4, "dx": 5},
         "bounds": "flush", "spacing": 15, "resolve": {"scale": {"color": "independent", "fill": "independent"}}, "hconcat": [
          {"width": 45, "height": 180, "data": {"name": "fg"}, "transform": [{"filter": "datum.ig === 'IgG1'"}],
           "title": {"text": "IgG1", "fontWeight": "bold", "fontSize": 12.5, "offset": 10},
           "encoding": {"y": {"field": "row", "type": "ordinal", "scale": {"domain": [1,2,3,4], "paddingInner": 0.33, "paddingOuter": 0.165}, "axis": {"title": null, "labels": false}}},
           "layer": [
             {"mark": {"type": "bar", "stroke": "#000", "strokeWidth": 1}, "encoding": {"x": {"field": "v", "type": "quantitative", "scale": {"domain": [0, 25], "nice": false}, "axis": {"title": null, "values": [0, 25]}}, "fill": {"field": "grp", "type": "nominal", "scale": {"domain": ["none","CD4","CD8"], "range": ["#000000","#e2371f","#2f4f9f"]}, "legend": null}}},
             {"transform": [{"filter": "datum.hi != null"}], "mark": {"type": "rule", "color": "#000", "strokeWidth": 1.2}, "encoding": {"x": {"field": "v", "type": "quantitative", "title": null}, "x2": {"field": "hi"}}},
             {"transform": [{"filter": "datum.hi != null"}], "mark": {"type": "tick", "color": "#000", "thickness": 1.2, "size": 8}, "encoding": {"x": {"field": "hi", "type": "quantitative", "title": null}}}
           ]},
          {"width": 45, "height": 180, "data": {"name": "fg"}, "transform": [{"filter": "datum.ig === 'IgG2'"}],
           "title": {"text": "IgG2", "fontWeight": "bold", "fontSize": 12.5, "offset": 10},
           "encoding": {"y": {"field": "row", "type": "ordinal", "scale": {"domain": [1,2,3,4], "paddingInner": 0.33, "paddingOuter": 0.165}, "axis": {"title": null, "labels": false}}},
           "layer": [
             {"mark": {"type": "bar", "stroke": "#000", "strokeWidth": 1}, "encoding": {"x": {"field": "v", "type": "quantitative", "scale": {"domain": [0, 10], "nice": false}, "axis": {"title": null, "values": [0, 10]}}, "fill": {"field": "grp", "type": "nominal", "scale": {"domain": ["none","CD4","CD8"], "range": ["#000000","#e2371f","#2f4f9f"]}, "legend": null}}},
             {"transform": [{"filter": "datum.hi != null"}], "mark": {"type": "rule", "color": "#000", "strokeWidth": 1.2}, "encoding": {"x": {"field": "v", "type": "quantitative", "title": null}, "x2": {"field": "hi"}}},
             {"transform": [{"filter": "datum.hi != null"}], "mark": {"type": "tick", "color": "#000", "thickness": 1.2, "size": 8}, "encoding": {"x": {"field": "hi", "type": "quantitative", "title": null}}}
           ]},
          {"width": 45, "height": 180, "data": {"name": "fg"}, "transform": [{"filter": "datum.ig === 'IgG3'"}],
           "title": {"text": "IgG3", "fontWeight": "bold", "fontSize": 12.5, "offset": 10},
           "encoding": {"y": {"field": "row", "type": "ordinal", "scale": {"domain": [1,2,3,4], "paddingInner": 0.33, "paddingOuter": 0.165}, "axis": {"title": null, "labels": false}}},
           "layer": [
             {"mark": {"type": "bar", "stroke": "#000", "strokeWidth": 1}, "encoding": {"x": {"field": "v", "type": "quantitative", "scale": {"domain": [0, 10], "nice": false}, "axis": {"title": null, "values": [0, 10]}}, "fill": {"field": "grp", "type": "nominal", "scale": {"domain": ["none","CD4","CD8"], "range": ["#000000","#e2371f","#2f4f9f"]}, "legend": null}}},
             {"transform": [{"filter": "datum.hi != null"}], "mark": {"type": "rule", "color": "#000", "strokeWidth": 1.2}, "encoding": {"x": {"field": "v", "type": "quantitative", "title": null}, "x2": {"field": "hi"}}},
             {"transform": [{"filter": "datum.hi != null"}], "mark": {"type": "tick", "color": "#000", "thickness": 1.2, "size": 8}, "encoding": {"x": {"field": "hi", "type": "quantitative", "title": null}}}
           ]},
          {"width": 45, "height": 180, "data": {"name": "fg"}, "transform": [{"filter": "datum.ig === 'IgG4'"}],
           "title": {"text": "IgG4", "fontWeight": "bold", "fontSize": 12.5, "offset": 10},
           "encoding": {"y": {"field": "row", "type": "ordinal", "scale": {"domain": [1,2,3,4], "paddingInner": 0.33, "paddingOuter": 0.165}, "axis": {"title": null, "labels": false}}},
           "layer": [
             {"mark": {"type": "bar", "stroke": "#000", "strokeWidth": 1}, "encoding": {"x": {"field": "v", "type": "quantitative", "scale": {"domain": [0, 10], "nice": false}, "axis": {"title": null, "values": [0, 10]}}, "fill": {"field": "grp", "type": "nominal", "scale": {"domain": ["none","CD4","CD8"], "range": ["#000000","#e2371f","#2f4f9f"]}, "legend": null}}},
             {"transform": [{"filter": "datum.hi != null"}], "mark": {"type": "rule", "color": "#000", "strokeWidth": 1.2}, "encoding": {"x": {"field": "v", "type": "quantitative", "title": null}, "x2": {"field": "hi"}}},
             {"transform": [{"filter": "datum.hi != null"}], "mark": {"type": "tick", "color": "#000", "thickness": 1.2, "size": 8}, "encoding": {"x": {"field": "hi", "type": "quantitative", "title": null}}}
           ]}
        ]}
      ]}
     ]}
  ]}
]
}
